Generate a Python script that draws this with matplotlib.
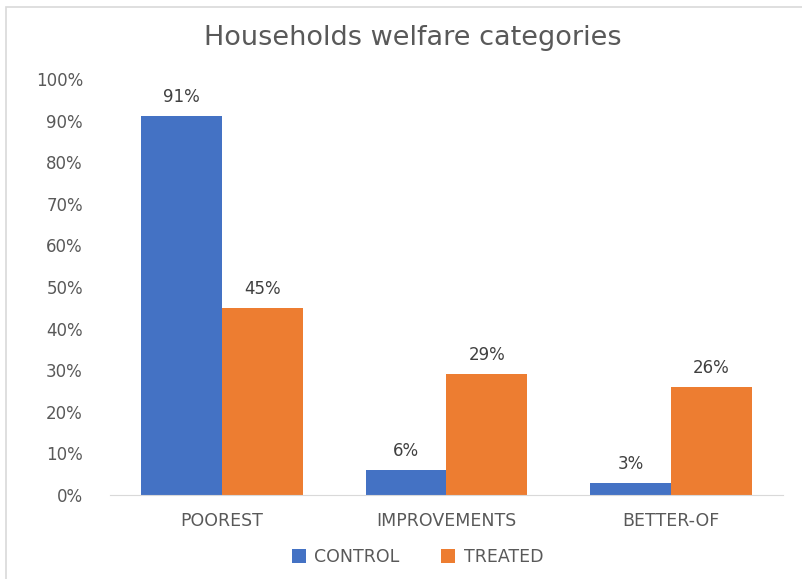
import matplotlib.pyplot as plt
import numpy as np
from matplotlib.patches import Rectangle

# data
categories = ["POOREST", "IMPROVEMENTS", "BETTER-OF"]
control = [91, 6, 3]
treated = [45, 29, 26]
series_names = ["CONTROL", "TREATED"]

plt.rcParams['font.family'] = ['DejaVu Sans']
txt = '#595959'

fig = plt.figure(figsize=(8.03, 5.79), dpi=100)
ax = fig.add_axes([0.137, 0.145, 0.838, 0.7185])

x = np.arange(len(categories))
w = 0.36
b1 = ax.bar(x - w/2, control, w, color='#4472C4', label=series_names[0])
b2 = ax.bar(x + w/2, treated, w, color='#ED7D31', label=series_names[1])

# data labels above bars
for bars in (b1, b2):
    for r in bars:
        ax.text(r.get_x() + r.get_width()/2, r.get_height() + 2.4, f"{r.get_height():.0f}%",
                ha='center', va='bottom', fontsize=12, color='#404040')

ax.set_xlim(-0.5, 2.5)
ax.set_ylim(0, 100)
ax.set_yticks(range(0, 101, 10))
ax.set_yticklabels([f"{v}%" for v in range(0, 101, 10)])
ax.set_xticks(x)
ax.set_xticklabels(categories)
ax.tick_params(axis='both', length=0, colors=txt, labelsize=12)
ax.tick_params(axis='x', labelsize=12.5)
ax.tick_params(axis='y', pad=19.5)
ax.tick_params(axis='x', pad=12.5)
for s in ['top', 'right', 'left']:
    ax.spines[s].set_visible(False)
ax.spines['bottom'].set_color('#D9D9D9')

fig.suptitle("Households welfare categories", x=0.514, y=0.957, fontsize=19.5, color=txt)

leg = fig.legend(loc='center', bbox_to_anchor=(0.52, 0.038), ncol=2, frameon=False,
                 fontsize=12.5, handlelength=0.8, handleheight=0.8, columnspacing=2.4,
                 handletextpad=0.5)
for t in leg.get_texts():
    t.set_color(txt)

# chart border (only top/left fall inside the picture)
fig.patches.append(Rectangle((0.008, -0.05), 1.1, 1.038, transform=fig.transFigure,
                             fill=False, edgecolor='#D9D9D9', lw=1.2))

fig.savefig("out.png", dpi=100)
